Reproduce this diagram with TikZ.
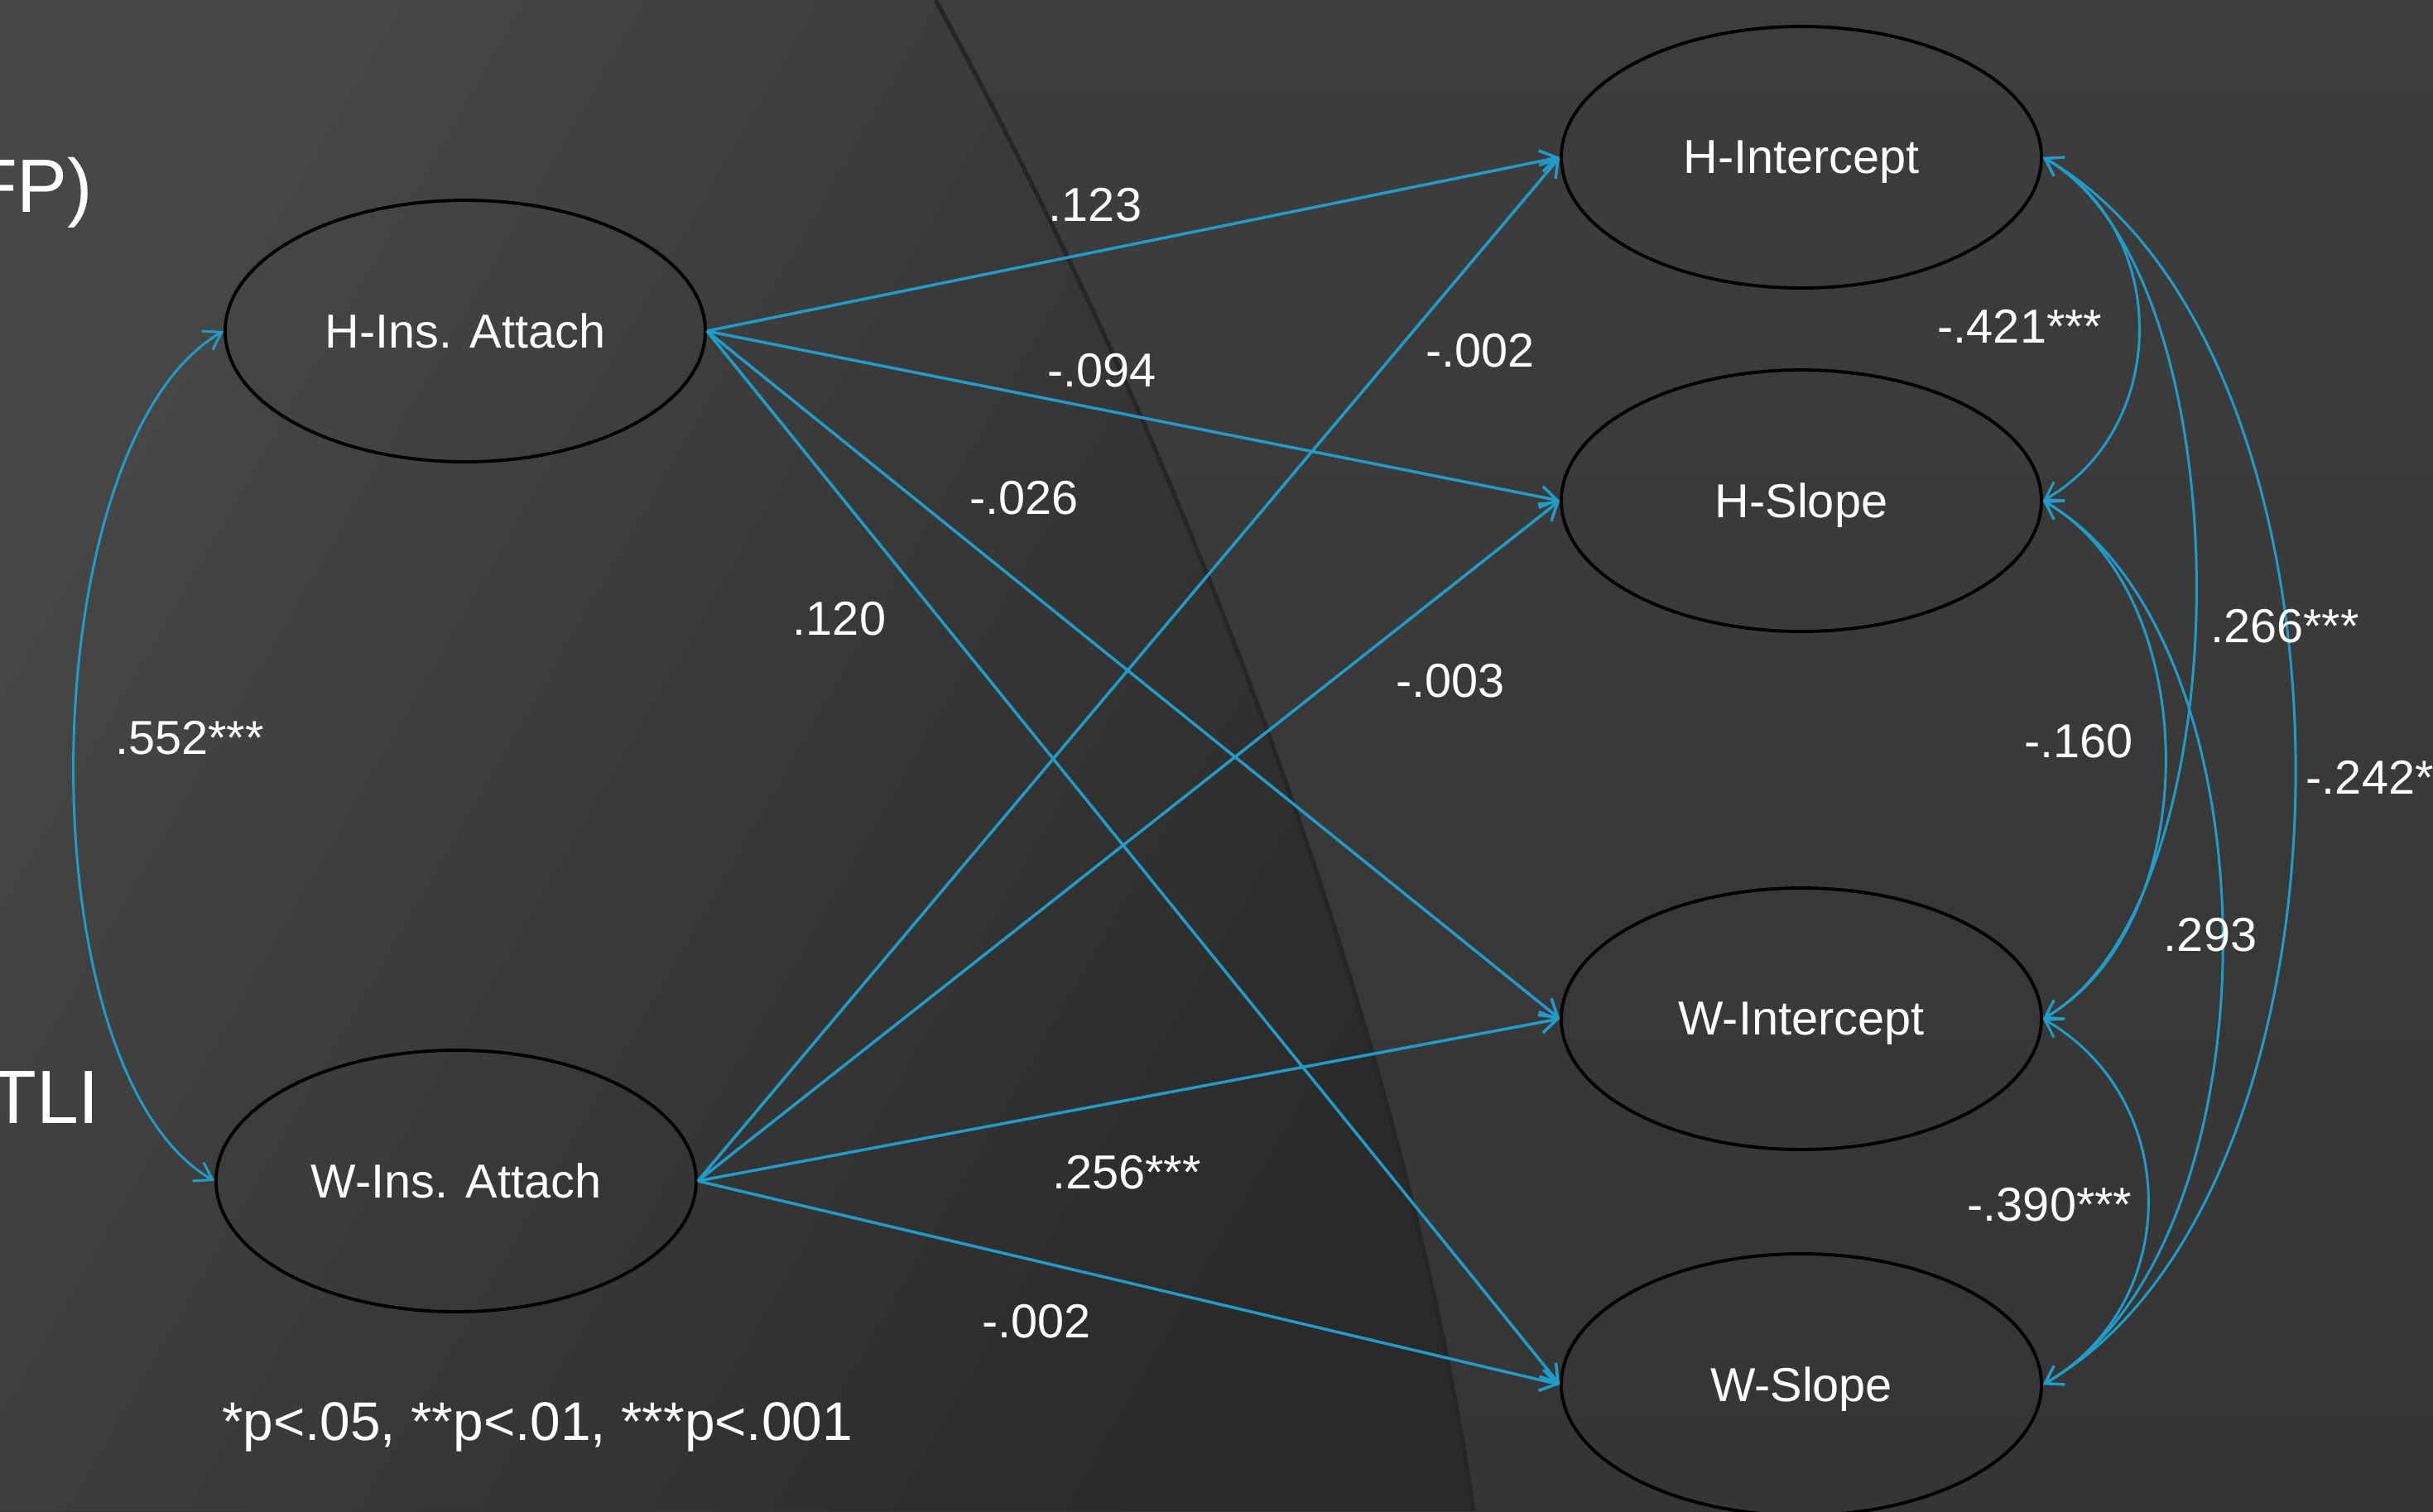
\documentclass[tikz,border=0pt]{standalone}
\usepackage{fontspec}
\setmainfont{Liberation Sans}
\usetikzlibrary{shapes.geometric,arrows.meta}
\definecolor{linkblue}{RGB}{33,155,200}
\definecolor{bgrtop}{HTML}{3D3D3D}
\definecolor{bgrbot}{HTML}{353535}
\definecolor{bglA}{HTML}{474747}
\definecolor{bglB}{HTML}{2A2A2A}
\definecolor{bgedge}{HTML}{262626}

\begin{document}
\begin{tikzpicture}[node distance={4.15cm},
  main/.style={draw=black,ellipse,line width=1.1pt,minimum width=5.8cm,minimum height=3.16cm,text depth=0pt,text=white,font=\fontsize{16.4}{19}\selectfont},
  lbl/.style={text=white,inner sep=0pt,font=\fontsize{16.4}{19}\selectfont},
  big/.style={text=white,inner sep=0pt,font=\fontsize{26}{30}\selectfont},
  link/.style={->,line width=1pt,draw=linkblue},
  cov/.style={<->,line width=0.85pt,draw=linkblue},
  >={Straight Barb[length=2mm,width=2.6mm]}]

% background
\useasboundingbox (0,0) rectangle (29.39,-18.26);
\shade[top color=bgrtop,bottom color=bgrbot] (0,0) rectangle (29.39,-18.26);
\shade[left color=bglA,right color=bglB,shading angle=60] (0,0) -- (11.30,0) .. controls (14.6,-6.0) and (17.0,-12.8) .. (17.80,-18.26) -- (0,-18.26) -- cycle;
\draw[bgedge,line width=1.5pt] (11.30,0) .. controls (14.6,-6.0) and (17.0,-12.8) .. (17.80,-18.26);

\node[big,anchor=base east] (t1) at (1.13,-2.56) {FP)};
\node[big,anchor=base east] (t2) at (1.21,-13.57) {TLI};

\node[main] (1) at (5.62,-4.00) {H-Ins. Attach};
\node[main] (2) at (5.51,-14.27) {W-Ins. Attach};
\node[main] (3) at (21.76,-1.90) {H-Intercept};
\node[main] (4) [below of=3] {H-Slope};
\node[main] (5) [below of=4,node distance=6.26cm] {W-Intercept};
\node[main] (6) [below of=5,node distance=4.42cm] {W-Slope};

\draw[link] (1.east) -- (3.west);
\draw[link] (1.east) -- (4.west);
\draw[link] (1.east) -- (5.west);
\draw[link] (1.east) -- (6.west);
\draw[link] (2.east) -- (3.west);
\draw[link] (2.east) -- (4.west);
\draw[link] (2.east) -- (5.west);
\draw[link] (2.east) -- (6.west);

\draw[cov] (1.west) to[out=210,in=150,looseness=0.67] (2.west);
\draw[cov] (3.east) to[out=-30,in=30,looseness=1.1] (4.east);
\draw[cov] (3.east) to[out=-30,in=30,looseness=0.7] (5.east);
\draw[cov] (3.east) to[out=-30,in=30,looseness=0.81] (6.east);
\draw[cov] (4.east) to[out=-30,in=30,looseness=0.93] (5.east);
\draw[cov] (4.east) to[out=-30,in=30,looseness=0.8] (6.east);
\draw[cov] (5.east) to[out=-30,in=30,looseness=1.13] (6.east);

\node[lbl] (p1) at (13.23,-2.48) {.123};
\node[lbl] (p2) at (13.31,-4.48) {-.094};
\node[lbl] (p3) at (12.37,-6.02) {-.026};
\node[lbl] (p4) at (10.14,-7.48) {.120};
\node[lbl] (p5) at (17.88,-4.24) {-.002};
\node[lbl] (p6) at (17.52,-8.23) {-.003};
\node[lbl] (p7) at (13.61,-14.17) {.256***};
\node[lbl] (p8) at (12.52,-15.97) {-.002};
\node[lbl] (c1) at (2.29,-8.92) {.552***};
\node[lbl] (c2) at (24.40,-3.94) {-.421***};
\node[lbl] (c3) at (27.60,-7.57) {.266***};
\node[lbl] (c4) at (25.11,-8.96) {-.160};
\node[lbl,anchor=west] (c5) at (27.85,-9.39) {-.242*};
\node[lbl] (c6) at (26.70,-11.30) {.293};
\node[lbl] (c7) at (24.76,-14.56) {-.390***};
\node[lbl,font=\fontsize{18.7}{22}\selectfont] (fn) at (6.49,-17.24) {*p<.05, **p<.01, ***p<.001};

\end{tikzpicture}
\end{document}
